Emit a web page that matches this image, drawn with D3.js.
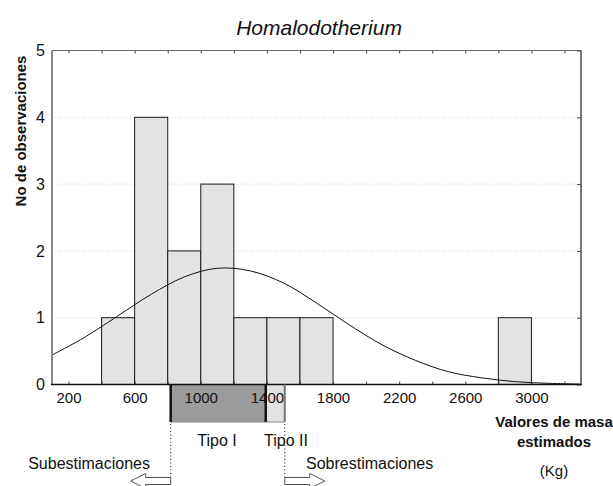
<!DOCTYPE html>
<html>
<head>
<meta charset="utf-8">
<script src="https://cdn.jsdelivr.net/npm/d3@7"></script>
<style>
  body { margin: 0; background: #fff; }
  text { font-family: "Liberation Sans", Arial, sans-serif; fill: #111; }
</style>
</head>
<body>
<div id="chart"></div>
<script>
// Histogram bins (Kg) and counts
const binLo = [400, 600, 800, 1000, 1200, 1400, 1600, 2800];
const binHi = [600, 800, 1000, 1200, 1400, 1600, 1800, 3000];
const counts = [1, 4, 2, 3, 1, 1, 1, 1];

// Fitted normal curve
const curveX = [100, 300, 500, 700, 900, 1100, 1300, 1500, 1700, 1900, 2100, 2300, 2500, 2700, 2900, 3100, 3300];
const curveY = [0.44, 0.71, 1.03, 1.35, 1.61, 1.74, 1.70, 1.52, 1.22, 0.89, 0.59, 0.36, 0.19, 0.10, 0.043, 0.018, 0.006];

// Tick values
const xMinorTicks = [200, 400, 600, 800, 1000, 1200, 1400, 1600, 1800, 2000, 2200, 2400, 2600, 2800, 3000, 3200];
const xTickLabels = [200, 600, 1000, 1400, 1800, 2200, 2600, 3000];
const yTicks = [0, 1, 2, 3, 4, 5];

// Ranges under the axis
const tipoI = [818, 1393];
const tipoII = [1393, 1508];

const width = 613, height = 486;
const margin = {top: 50.5, bottom: 101.5, left: 52, right: 32};

const svg = d3.select("#chart")
    .append("svg")
    .attr("width", width)
    .attr("height", height);

const xScale = d3.scaleLinear()
    .domain([100, 3300])
    .range([margin.left, width - margin.right]);

const yScale = d3.scaleLinear()
    .domain([0, 5])
    .range([height - margin.bottom, margin.top]);

const x0 = xScale.range()[0], x1 = xScale.range()[1];
const y0 = yScale.range()[0], y1 = yScale.range()[1];

// Title
svg.append("text")
    .attr("x", 319)
    .attr("y", 35)
    .attr("text-anchor", "middle")
    .style("font-size", "21px")
    .style("font-style", "italic")
    .text("Homalodotherium");

// Dotted gridlines
svg.selectAll(".grid")
    .data(yTicks.filter(d => d > 0 && d < 5))
    .enter().append("line")
    .attr("x1", x0)
    .attr("x2", x1)
    .attr("y1", d => yScale(d))
    .attr("y2", d => yScale(d))
    .attr("stroke", "#d4d4d4")
    .attr("stroke-dasharray", "1,2");

// Bars
svg.selectAll(".bar")
    .data(counts)
    .enter().append("rect")
    .attr("x", (d, i) => xScale(binLo[i]))
    .attr("y", d => yScale(d))
    .attr("width", (d, i) => xScale(binHi[i]) - xScale(binLo[i]))
    .attr("height", d => y0 - yScale(d))
    .attr("fill", "#e3e3e3")
    .attr("stroke", "#1a1a1a")
    .attr("stroke-width", 1);

// Normal curve
const line = d3.line()
    .x((d, i) => xScale(curveX[i]))
    .y(d => yScale(d))
    .curve(d3.curveCatmullRom);

svg.append("path")
    .datum(curveY)
    .attr("d", line)
    .attr("fill", "none")
    .attr("stroke", "#111")
    .attr("stroke-width", 1);

// Frame
svg.append("line").attr("x1", x0).attr("x2", x1).attr("y1", y1).attr("y2", y1)
    .attr("stroke", "#666").attr("stroke-width", 1);
svg.append("line").attr("x1", x1).attr("x2", x1).attr("y1", y1).attr("y2", y0)
    .attr("stroke", "#777").attr("stroke-width", 2);
svg.append("line").attr("x1", x0).attr("x2", x0).attr("y1", y1).attr("y2", y0)
    .attr("stroke", "#888").attr("stroke-width", 2);

// Top inward ticks
svg.append("g")
    .attr("transform", `translate(0,${y1})`)
    .call(d3.axisTop(xScale).tickValues(xMinorTicks).tickSize(-3).tickFormat(""))
    .call(g => g.select(".domain").remove())
    .call(g => g.selectAll(".tick line").attr("stroke", "#444"));

// Right inward ticks
svg.append("g")
    .attr("transform", `translate(${x1},0)`)
    .call(d3.axisRight(yScale).tickValues(yTicks).tickSize(-4).tickFormat(""))
    .call(g => g.select(".domain").remove())
    .call(g => g.selectAll(".tick line").attr("stroke", "#444"));

// Tipo ranges below the axis
const boxTop = y0, boxBottom = 422;
svg.append("rect")
    .attr("x", xScale(tipoII[0]))
    .attr("y", boxTop)
    .attr("width", xScale(tipoII[1]) - xScale(tipoII[0]))
    .attr("height", boxBottom - boxTop)
    .attr("fill", "#e2e2e2");

svg.append("rect")
    .attr("x", xScale(tipoI[0]))
    .attr("y", boxTop)
    .attr("width", xScale(tipoI[1]) - xScale(tipoI[0]))
    .attr("height", boxBottom - boxTop)
    .attr("fill", "#9b9b9b");

svg.append("line")
    .attr("x1", xScale(tipoI[0])).attr("x2", xScale(tipoII[1]))
    .attr("y1", boxBottom).attr("y2", boxBottom)
    .attr("stroke", "#888").attr("stroke-width", 1);

// Bottom axis
const xAxis = svg.append("g")
    .attr("transform", `translate(0,${y0})`)
    .call(d3.axisBottom(xScale)
        .tickValues(xMinorTicks)
        .tickSize(-3)
        .tickPadding(8)
        .tickFormat(d => xTickLabels.includes(d) ? d : ""));
xAxis.select(".domain").remove();
xAxis.selectAll(".tick line").attr("stroke", "#444");
xAxis.selectAll(".tick text")
    .style("font-size", "15px")
    .style("font-family", "Liberation Sans, Arial, sans-serif")
    .attr("fill", "#111");

svg.append("line").attr("x1", x0 - 1).attr("x2", x1 + 1).attr("y1", y0).attr("y2", y0)
    .attr("stroke", "#111").attr("stroke-width", 1.5);

// Edges of the ranges
svg.append("line")
    .attr("x1", xScale(tipoI[0])).attr("x2", xScale(tipoI[0]))
    .attr("y1", boxTop).attr("y2", boxBottom)
    .attr("stroke", "#111").attr("stroke-width", 2.5);
svg.append("line")
    .attr("x1", xScale(tipoI[1])).attr("x2", xScale(tipoI[1]))
    .attr("y1", boxTop).attr("y2", boxBottom)
    .attr("stroke", "#111").attr("stroke-width", 2.5);
svg.append("line")
    .attr("x1", xScale(tipoII[1])).attr("x2", xScale(tipoII[1]))
    .attr("y1", boxTop).attr("y2", boxBottom)
    .attr("stroke", "#777").attr("stroke-width", 2);

// Dotted drop lines
[tipoI[0], tipoII[1]].forEach(v => {
    svg.append("line")
        .attr("x1", xScale(v)).attr("x2", xScale(v))
        .attr("y1", boxBottom + 2).attr("y2", 480)
        .attr("stroke", "#111")
        .attr("stroke-dasharray", "1,2.5");
});

// Hollow arrows
function arrow(xStart, dir) {
    const len = 40, head = 15, sh = 3.5, hh = 7.5, cy = 481;
    const xe = xStart + dir * len, xn = xe - dir * head;
    const pts = [[xStart, cy - sh], [xn, cy - sh], [xn, cy - hh], [xe, cy],
                 [xn, cy + hh], [xn, cy + sh], [xStart, cy + sh]];
    svg.append("path")
        .attr("d", "M" + pts.map(p => p.join(",")).join("L") + "Z")
        .attr("fill", "#fff")
        .attr("stroke", "#555")
        .attr("stroke-width", 1);
}
arrow(xScale(tipoI[0]), -1);
arrow(xScale(tipoII[1]), 1);

// Y axis labels
const yAxis = svg.append("g")
    .attr("transform", `translate(${x0},0)`)
    .call(d3.axisLeft(yScale).tickValues(yTicks).tickSize(0).tickPadding(7)
        .tickFormat(d3.format("d")));
yAxis.select(".domain").remove();
yAxis.selectAll(".tick text")
    .style("font-size", "16px")
    .style("font-family", "Liberation Sans, Arial, sans-serif")
    .attr("fill", "#111");

// Axis titles
svg.append("text")
    .attr("transform", "rotate(-90)")
    .attr("x", -131)
    .attr("y", 26)
    .attr("text-anchor", "middle")
    .style("font-size", "15px")
    .style("font-weight", "bold")
    .text("No de observaciones");

svg.append("text").attr("x", 554).attr("y", 427).attr("text-anchor", "middle")
    .style("font-size", "15px").style("font-weight", "bold").text("Valores de masa");
svg.append("text").attr("x", 554).attr("y", 447).attr("text-anchor", "middle")
    .style("font-size", "15px").style("font-weight", "bold").text("estimados");
svg.append("text").attr("x", 554).attr("y", 476).attr("text-anchor", "middle")
    .style("font-size", "15px").text("(Kg)");

// Range annotations
svg.append("text").attr("x", 217).attr("y", 446).attr("text-anchor", "middle")
    .style("font-size", "16px").text("Tipo I");
svg.append("text").attr("x", 286).attr("y", 446).attr("text-anchor", "middle")
    .style("font-size", "16px").text("Tipo II");
svg.append("text").attr("x", 150).attr("y", 469).attr("text-anchor", "end")
    .style("font-size", "16px").text("Subestimaciones");
svg.append("text").attr("x", 306).attr("y", 469)
    .style("font-size", "16px").text("Sobrestimaciones");
</script>
</body>
</html>
